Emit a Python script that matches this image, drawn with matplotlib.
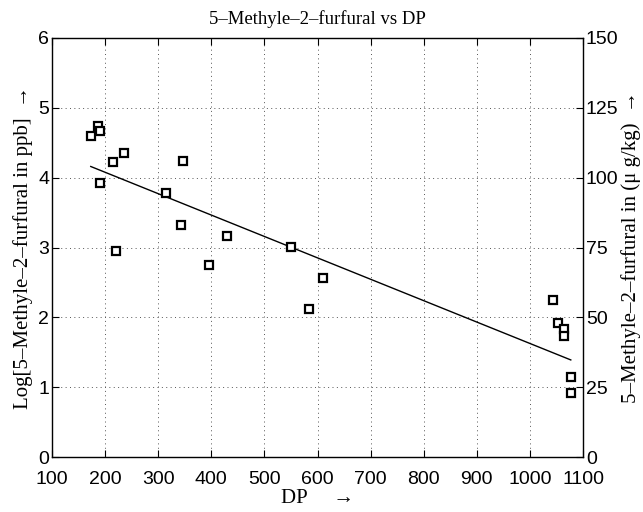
import matplotlib
matplotlib.use("Agg")
import matplotlib.pyplot as plt
import numpy as np

# Data
dp = [173, 187, 190, 235, 215, 347, 190, 315, 343, 430, 221, 551, 395, 611, 584,
      1044, 1052, 1065, 1065, 1077, 1077]
log_val = [4.60, 4.74, 4.67, 4.35, 4.22, 4.24, 3.93, 3.78, 3.32, 3.17, 2.95, 3.01,
           2.75, 2.56, 2.12, 2.25, 1.92, 1.84, 1.73, 1.15, 0.92]
fit_dp = [173, 1077]
fit_val = [4.16, 1.39]

x_ticks = [100, 200, 300, 400, 500, 600, 700, 800, 900, 1000, 1100]
left_ticks = [0, 1, 2, 3, 4, 5, 6]
right_ticks = [0, 25, 50, 75, 100, 125, 150]

title = "5\u2013Methyle\u20132\u2013furfural vs DP"
xlabel = "DP     \u2192"
ylabel_left = "Log[5\u2013Methyle\u20132\u2013furfural in ppb]  \u2192"
ylabel_right = "5\u2013Methyle\u20132\u2013furfural in (\u03bc g/kg)  \u2192"

serif = ["Liberation Serif", "DejaVu Serif"]
sans = ["Liberation Sans", "DejaVu Sans"]

fig = plt.figure(figsize=(6.43, 5.12), dpi=100)
ax = fig.add_axes([52/643, 1 - 457/512, (583 - 52)/643, (457 - 38)/512])

ax.plot(dp, log_val, linestyle="none", marker="s", markersize=6,
        markerfacecolor="white", markeredgecolor="black", markeredgewidth=1.6, zorder=3)
ax.plot(fit_dp, fit_val, color="black", linewidth=1.0, zorder=2)

ax.set_xlim(100, 1100)
ax.set_ylim(0, 6)
ax.set_xticks(x_ticks)
ax.set_yticks(left_ticks)
ax.grid(True, linestyle=(0, (1, 3.5)), color="#555555", linewidth=0.7)
ax.tick_params(direction="in", length=5, width=0.8, top=True, right=False,
               labelsize=14, pad=2)
ax.tick_params(axis="x", pad=10)
for lbl in ax.get_xticklabels() + ax.get_yticklabels():
    lbl.set_family(sans)
for s in ax.spines.values():
    s.set_linewidth(1.0)
    s.set_color("#333333")

ax2 = ax.twinx()
ax2.set_ylim(0, 150)
ax2.set_yticks(right_ticks)
ax2.tick_params(direction="in", length=5, width=0.8, labelsize=14, pad=2)
for lbl in ax2.get_yticklabels():
    lbl.set_family(sans)

ax.set_title(title, family=serif, fontsize=13.5, pad=10)
ax.set_xlabel(xlabel, family=serif, fontsize=15, labelpad=1)
ax.set_ylabel(ylabel_left, family=serif, fontsize=15, labelpad=4)
ax2.set_ylabel(ylabel_right, family=serif, fontsize=15, labelpad=2)

fig.savefig("out.png", dpi=100)
